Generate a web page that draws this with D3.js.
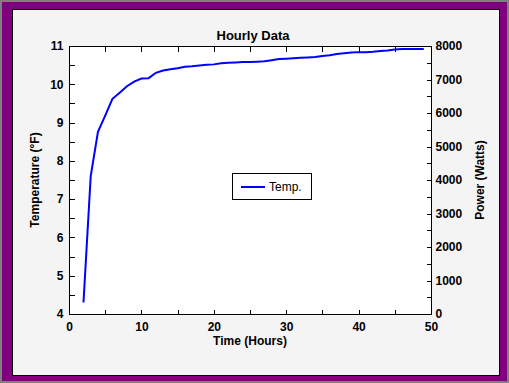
<!DOCTYPE html>
<head>
  <meta charset="utf-8">
  <style>
    body { margin: 0; }
    text { font-family: Arial, "Liberation Sans", sans-serif; }
    .tick text { font-size: 12px; font-weight: bold; fill: #000; }
  </style>
  <script src="https://d3js.org/d3.v7.min.js" charset="utf-8"></script>
</head>
<body>
  <script>
    //Width and height
    var w = 509;
    var h = 383;

    // hourly readings
    var hours = [2, 3, 4, 5, 6, 7, 8, 9, 10, 11, 12, 13, 14, 15, 16, 17, 18, 19, 20, 21,
                 22, 23, 24, 25, 26, 27, 28, 29, 30, 31, 32, 33, 34, 35, 36, 37, 38, 39, 40,
                 41, 42, 43, 44, 45, 46, 47, 48, 49];
    var temps = [4.30, 7.60, 8.76, 9.18, 9.62, 9.78, 9.95, 10.07, 10.15, 10.16, 10.30, 10.36,
                 10.39, 10.42, 10.46, 10.47, 10.49, 10.51, 10.52, 10.55, 10.56, 10.57, 10.58,
                 10.58, 10.59, 10.60, 10.63, 10.66, 10.67, 10.68, 10.69, 10.70, 10.71, 10.74,
                 10.76, 10.79, 10.81, 10.83, 10.84, 10.84, 10.85, 10.87, 10.88, 10.91, 10.92,
                 10.92, 10.92, 10.92];

    var xTicks = [0, 10, 20, 30, 40, 50];
    var tempTicks = [4, 5, 6, 7, 8, 9, 10, 11];
    var powerTicks = [0, 1000, 2000, 3000, 4000, 5000, 6000, 7000, 8000];

    // plot box
    var pLeft = 69, pRight = 431, pTop = 46, pBottom = 314;

    var xScale = d3.scaleLinear().domain([0, 50]).range([pLeft, pRight]);
    var yScale = d3.scaleLinear().domain([4, 11]).range([pBottom, pTop]);
    var pScale = d3.scaleLinear().domain([0, 8000]).range([pBottom, pTop]);

    var svg = d3.select("body")
                .append("svg")
                .attr("width", w)
                .attr("height", h);

    // frame
    svg.append("rect")
       .attr("x", 1).attr("y", 1)
       .attr("width", w - 2).attr("height", h - 2)
       .attr("fill", "#800080")
       .attr("stroke", "#808080")
       .attr("stroke-width", 2);

    svg.append("rect")
       .attr("x", 12.5).attr("y", 9.5)
       .attr("width", 487).attr("height", 366)
       .attr("fill", "#f4f4f4")
       .attr("stroke", "#000");

    svg.append("rect")
       .attr("x", pLeft + 0.5).attr("y", pTop + 0.5)
       .attr("width", pRight - pLeft).attr("height", pBottom - pTop)
       .attr("fill", "#fff");

    // axes, ticks pointing inwards
    var gx = svg.append("g")
       .attr("transform", "translate(0," + (pBottom + 0.5) + ")")
       .call(d3.axisBottom(xScale).tickValues(d3.range(0, 51, 5)).tickSize(-5).tickPadding(8)
               .tickFormat(function(d) { return xTicks.indexOf(d) >= 0 ? d : ""; }));

    var gt = svg.append("g")
       .attr("transform", "translate(0," + (pTop + 0.5) + ")")
       .call(d3.axisTop(xScale).tickValues(d3.range(0, 51, 5)).tickSize(-5).tickFormat(""));

    var gy = svg.append("g")
       .attr("transform", "translate(" + (pLeft + 0.5) + ",0)")
       .call(d3.axisLeft(yScale).tickValues(d3.range(4, 11.01, 0.5)).tickSize(-5).tickPadding(6)
               .tickFormat(function(d) { return tempTicks.indexOf(d) >= 0 ? d : ""; }));

    var gp = svg.append("g")
       .attr("transform", "translate(" + (pRight + 0.5) + ",0)")
       .call(d3.axisRight(pScale).tickValues(d3.range(0, 8001, 500)).tickSize(-5).tickPadding(4)
               .tickFormat(function(d) { return powerTicks.indexOf(d) >= 0 ? d : ""; }));

    [gx, gt, gy, gp].forEach(function(g) {
      g.selectAll("path, line").attr("stroke", "#000").attr("shape-rendering", "crispEdges");
      g.select(".domain").remove();
    });

    // plot border
    svg.append("rect")
       .attr("x", pLeft + 0.5).attr("y", pTop + 0.5)
       .attr("width", pRight - pLeft).attr("height", pBottom - pTop)
       .attr("fill", "none")
       .attr("stroke", "#000")
       .attr("shape-rendering", "crispEdges");

    // line
    var line = d3.line()
                 .x(function(d, i) { return xScale(hours[i]); })
                 .y(function(d) { return yScale(d); });

    svg.append("path")
       .datum(temps)
       .attr("d", line)
       .attr("fill", "none")
       .attr("stroke", "#0000ff")
       .attr("stroke-width", 2);

    // titles
    svg.append("text")
       .attr("x", 253).attr("y", 40)
       .attr("text-anchor", "middle")
       .attr("font-size", "13px").attr("font-weight", "bold")
       .text("Hourly Data");

    svg.append("text")
       .attr("x", 250).attr("y", 345)
       .attr("text-anchor", "middle")
       .attr("font-size", "12px").attr("font-weight", "bold")
       .text("Time (Hours)");

    svg.append("text")
       .attr("transform", "translate(39,180) rotate(-90)")
       .attr("text-anchor", "middle")
       .attr("font-size", "12px").attr("font-weight", "bold")
       .text("Temperature (°F)");

    svg.append("text")
       .attr("transform", "translate(484,180) rotate(-90)")
       .attr("text-anchor", "middle")
       .attr("font-size", "12px").attr("font-weight", "bold")
       .text("Power (Watts)");

    // legend
    var lg = svg.append("g");
    lg.append("rect")
      .attr("x", 232.5).attr("y", 173.5)
      .attr("width", 79).attr("height", 26)
      .attr("fill", "#fff").attr("stroke", "#000");
    lg.append("line")
      .attr("x1", 241).attr("x2", 265)
      .attr("y1", 187).attr("y2", 187)
      .attr("stroke", "#0000ff").attr("stroke-width", 2);
    lg.append("text")
      .attr("x", 269).attr("y", 191)
      .attr("font-size", "12px")
      .text("Temp.");
  </script>
</body>
